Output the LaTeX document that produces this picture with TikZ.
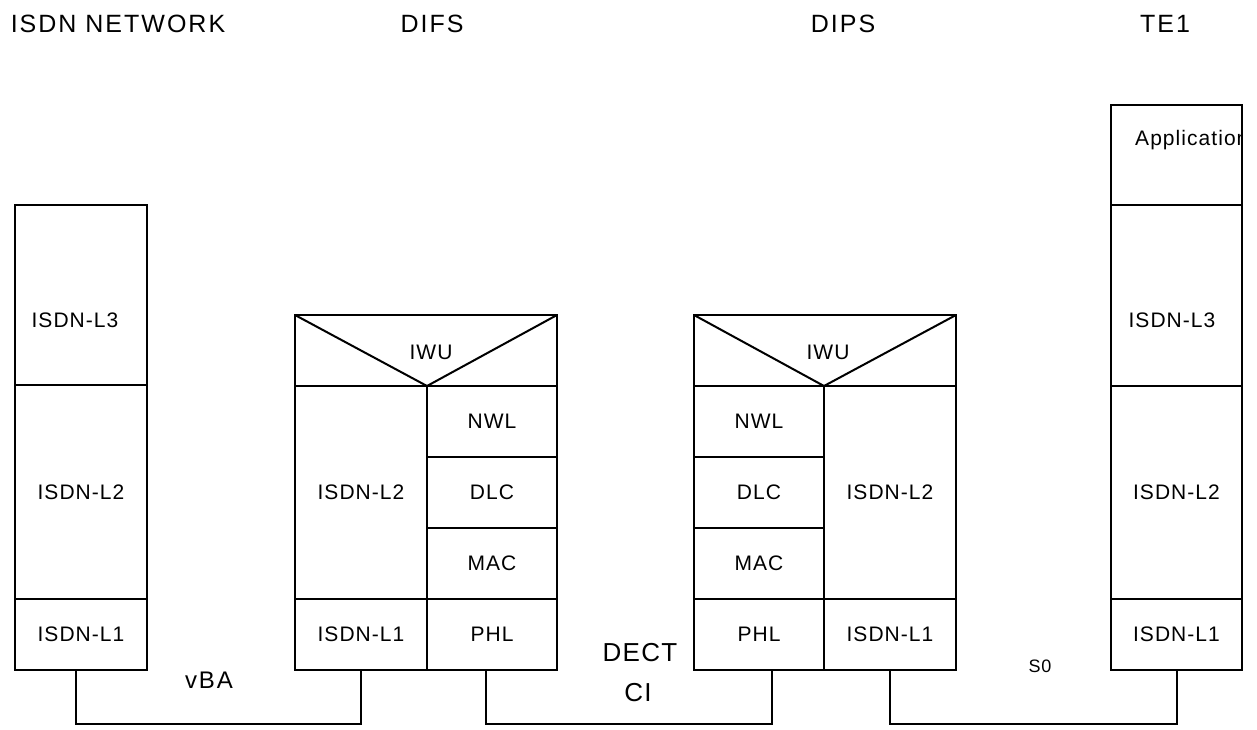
\documentclass[tikz,border=0pt]{standalone}
\usepackage{fontspec}
\setmainfont{Liberation Sans}
\newfontfamily\lblfont[LetterSpace=5]{Liberation Sans}
\newfontfamily\ttlfont[LetterSpace=8]{Liberation Sans}
\begin{document}
\begin{tikzpicture}[x=1pt,y=-1pt,
  cell/.style={draw, line width=2pt, inner sep=0pt, outer sep=0pt, anchor=north west,
    font=\lblfont\fontsize{21}{24}\selectfont},
  txt/.style={inner sep=0pt, font=\lblfont\fontsize{21}{24}\selectfont},
  ttl/.style={inner sep=0pt, font=\ttlfont\fontsize{25}{28}\selectfont},
  conn/.style={line width=2pt}]
\useasboundingbox (0,0) rectangle (1257,729);
% titles
\node[ttl] (tnet) at (118,24) {ISDN NETWORK};
\node[ttl] (tdifs) at (432,24) {DIFS};
\node[ttl] (tdips) at (843,24) {DIPS};
\node[ttl] (tte) at (1165,24) {TE1};
% ISDN network stack
\node[cell, minimum width=132pt, minimum height=180pt] (netL3) at (15,205) {};
\node[txt] (netL3t) at (75,320) {ISDN-L3};
\node[cell, minimum width=132pt, minimum height=214pt] (netL2) at (15,385) {ISDN-L2};
\node[cell, minimum width=132pt, minimum height=71pt] (netL1) at (15,599) {ISDN-L1};
% DIFS stack
\node[cell, minimum width=262pt, minimum height=71pt] (difsIWU) at (295,315) {};
\node[txt] (difsIWUt) at (431,352) {IWU};
\node[cell, minimum width=132pt, minimum height=213pt] (difsL2) at (295,386) {ISDN-L2};
\node[cell, minimum width=132pt, minimum height=71pt] (difsL1) at (295,599) {ISDN-L1};
\node[cell, minimum width=130pt, minimum height=71pt] (difsNWL) at (427,386) {NWL};
\node[cell, minimum width=130pt, minimum height=71pt] (difsDLC) at (427,457) {DLC};
\node[cell, minimum width=130pt, minimum height=71pt] (difsMAC) at (427,528) {MAC};
\node[cell, minimum width=130pt, minimum height=71pt] (difsPHL) at (427,599) {PHL};
\draw[conn] (difsIWU.north west) -- (difsNWL.north west) -- (difsIWU.north east);
% DIPS stack
\node[cell, minimum width=262pt, minimum height=71pt] (dipsIWU) at (694,315) {};
\node[txt] (dipsIWUt) at (828,352) {IWU};
\node[cell, minimum width=130pt, minimum height=71pt] (dipsNWL) at (694,386) {NWL};
\node[cell, minimum width=130pt, minimum height=71pt] (dipsDLC) at (694,457) {DLC};
\node[cell, minimum width=130pt, minimum height=71pt] (dipsMAC) at (694,528) {MAC};
\node[cell, minimum width=130pt, minimum height=71pt] (dipsPHL) at (694,599) {PHL};
\node[cell, minimum width=132pt, minimum height=213pt] (dipsL2) at (824,386) {ISDN-L2};
\node[cell, minimum width=132pt, minimum height=71pt] (dipsL1) at (824,599) {ISDN-L1};
\draw[conn] (dipsIWU.north west) -- (dipsL2.north west) -- (dipsIWU.north east);
% TE1 stack
\node[cell, minimum width=131pt, minimum height=100pt] (teApp) at (1111,105) {};
\begin{scope}
\clip (1111,105) rectangle (1242,205);
\node[txt, anchor=west] (teAppt) at (1135,140) {Application};
\end{scope}
\draw[line width=2pt] (teApp.north east) -- (teApp.south east);
\node[cell, minimum width=131pt, minimum height=181pt] (teL3) at (1111,205) {};
\node[txt] (teL3t) at (1172,320) {ISDN-L3};
\node[cell, minimum width=131pt, minimum height=213pt] (teL2) at (1111,386) {ISDN-L2};
\node[cell, minimum width=131pt, minimum height=71pt] (teL1) at (1111,599) {ISDN-L1};
% connectors
\draw[conn] ([xshift=-5pt]netL1.south) -- ++(0,54) -| (difsL1.south);
\draw[conn] ([xshift=-6pt]difsPHL.south) -- ++(0,54) -| ([xshift=13pt]dipsPHL.south);
\draw[conn] (dipsL1.south) -- ++(0,54) -| (teL1.south);
% interface labels
\node[inner sep=0pt, font=\ttlfont\fontsize{24}{28}\selectfont] (lvba) at (209,680) {vBA};
\node[inner sep=0pt, font=\lblfont\fontsize{26}{30}\selectfont, align=center] (ldect) at (640,653) {DECT};
\node[inner sep=0pt, font=\lblfont\fontsize{26}{30}\selectfont] (lci) at (638,693) {CI};
\node[inner sep=0pt, font=\lblfont\fontsize{18}{22}\selectfont] (lso) at (1040,666) {S0};
\end{tikzpicture}
\end{document}
